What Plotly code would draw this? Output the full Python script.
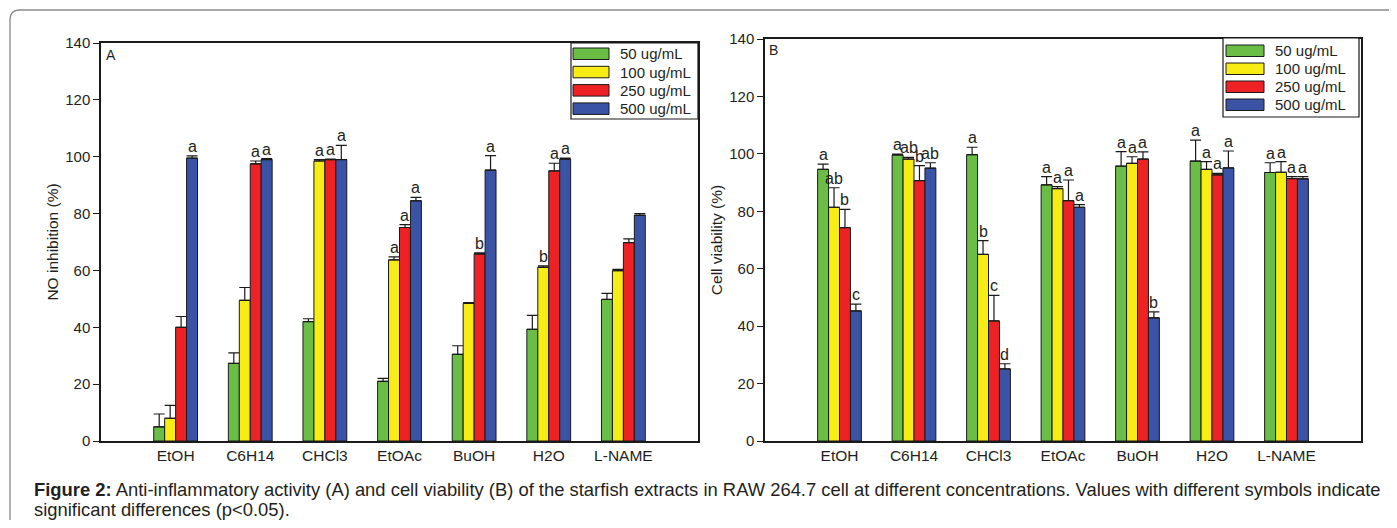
import plotly.graph_objects as go

# ---------------- data ----------------
categories = ["EtOH", "C6H14", "CHCl3", "EtOAc", "BuOH", "H2O", "L-NAME"]
series_names = ["50 ug/mL", "100 ug/mL", "250 ug/mL", "500 ug/mL"]
colors = ["#6BBE45", "#F7EC13", "#EE2224", "#3A53A4"]

# Panel A: NO inhibition (%)
no_50 = [5.0, 27.3, 42.0, 21.0, 30.5, 39.3, 49.8]
no_100 = [8.0, 49.5, 98.5, 63.7, 48.4, 61.1, 59.9]
no_250 = [40.0, 97.5, 99.0, 75.1, 65.8, 95.0, 69.8]
no_500 = [99.5, 99.0, 99.0, 84.5, 95.3, 99.1, 79.4]
no_50_err = [4.5, 3.7, 1.0, 1.0, 3.0, 4.9, 2.1]
no_100_err = [4.5, 4.5, 0.5, 1.1, 0.3, 0.5, 0.5]
no_250_err = [3.8, 1.0, 0.2, 1.0, 0.4, 2.7, 1.3]
no_500_err = [0.8, 0.3, 5.0, 1.2, 5.1, 0.4, 0.6]
no_50_lbl = ["", "", "", "", "", "", ""]
no_100_lbl = ["", "", "a", "a", "", "b", ""]
no_250_lbl = ["", "a", "a", "a", "b", "a", ""]
no_500_lbl = ["a", "a", "a", "a", "a", "a", ""]

# Panel B: Cell viability (%)
cv_50 = [94.6, 99.6, 99.7, 89.2, 95.7, 97.5, 93.5]
cv_100 = [81.4, 98.2, 65.0, 87.9, 96.7, 94.6, 93.6]
cv_250 = [74.3, 90.7, 41.8, 83.7, 98.2, 92.7, 91.4]
cv_500 = [45.3, 95.0, 25.1, 81.4, 42.9, 95.1, 91.3]
cv_50_err = [1.8, 0.3, 2.6, 2.9, 5.1, 7.3, 3.4]
cv_100_err = [6.8, 0.6, 4.8, 0.7, 2.3, 2.7, 3.7]
cv_250_err = [6.4, 5.2, 8.9, 7.2, 2.5, 0.5, 0.7]
cv_500_err = [2.4, 1.9, 1.8, 0.9, 2.1, 5.9, 0.8]
cv_50_lbl = ["a", "a", "a", "a", "a", "a", "a"]
cv_100_lbl = ["ab", "ab", "b", "a", "a", "a", "a"]
cv_250_lbl = ["b", "b", "c", "a", "a", "a", "a"]
cv_500_lbl = ["c", "ab", "d", "a", "b", "a", "a"]

panelA = dict(vals=[no_50, no_100, no_250, no_500],
              errs=[no_50_err, no_100_err, no_250_err, no_500_err],
              lbls=[no_50_lbl, no_100_lbl, no_250_lbl, no_500_lbl])
panelB = dict(vals=[cv_50, cv_100, cv_250, cv_500],
              errs=[cv_50_err, cv_100_err, cv_250_err, cv_500_err],
              lbls=[cv_50_lbl, cv_100_lbl, cv_250_lbl, cv_500_lbl])

# ---------------- layout helpers ----------------
OFF = 8                       # page body margin
W, H = 1397 - 2 * OFF, 528 - 2 * OFF
FONT = "Liberation Sans, Arial, sans-serif"
TXT = "#231F20"


def px(x):
    return (x - OFF) / W


def py(y):
    return 1 - (y - OFF) / H


BARGAP = 0.413
bar_w = (1 - BARGAP) / 4

fig = go.Figure()

annotations = []
shapes = []

for pi, (panel, xa, ya) in enumerate([(panelA, "x", "y"), (panelB, "x2", "y2")]):
    for si in range(4):
        fig.add_trace(go.Bar(
            x=categories, y=panel["vals"][si], name=series_names[si],
            marker=dict(color=colors[si], line=dict(color="#1a1a1a", width=1)),
            error_y=dict(type="data", symmetric=False, array=panel["errs"][si],
                         arrayminus=[0] * len(categories), color="#1a1a1a",
                         thickness=1.2, width=5.5),
            xaxis=xa, yaxis=ya, showlegend=False, offsetgroup=str(si),
        ))
        # significance letters
        for ci, lbl in enumerate(panel["lbls"][si]):
            if not lbl:
                continue
            xpos = ci + (si - 1.5) * bar_w
            annotations.append(dict(
                x=xpos, y=panel["vals"][si][ci] + panel["errs"][si][ci],
                xref=xa, yref=ya, text=lbl, showarrow=False,
                yanchor="bottom", xanchor="center", yshift=-1,
                font=dict(family=FONT, size=16, color=TXT)))

axis_common = dict(showline=True, linecolor="#1a1a1a", linewidth=1.5, mirror=True,
                   showgrid=False, zeroline=False, automargin=False)

fig.update_layout(
    template="none",
    width=W, height=H, margin=dict(l=0, r=0, t=0, b=0, autoexpand=False),
    paper_bgcolor="white", plot_bgcolor="white",
    barmode="group", bargap=BARGAP, bargroupgap=0,
    font=dict(family=FONT, size=15, color=TXT),
    xaxis=dict(domain=[px(101), px(698)], anchor="y", range=[-1, 7],
               ticks="", tickfont=dict(size=15.5), ticklabelstandoff=0, **axis_common),
    yaxis=dict(domain=[py(441), py(43)], anchor="x", range=[0, 140], dtick=20,
               ticks="outside", ticklen=6, tickcolor="#1a1a1a", tickfont=dict(size=15),
               title=dict(text="NO inhibition (%)", font=dict(size=15.5), standoff=3),
               **axis_common),
    xaxis2=dict(domain=[px(765), px(1361)], anchor="y2", range=[-1, 7],
                ticks="", tickfont=dict(size=15.5), ticklabelstandoff=0, **axis_common),
    yaxis2=dict(domain=[py(441), py(39)], anchor="x2", range=[0, 140], dtick=20,
                ticks="outside", ticklen=6, tickcolor="#1a1a1a", tickfont=dict(size=15),
                title=dict(text="Cell viability (%)", font=dict(size=15.5), standoff=3),
                **axis_common),
)

# panel letters
annotations.append(dict(x=px(104), y=py(45), xref="paper", yref="paper", text="A",
                        showarrow=False, xanchor="left", yanchor="top",
                        font=dict(family=FONT, size=14, color=TXT)))
annotations.append(dict(x=px(767), y=py(40), xref="paper", yref="paper", text="B",
                        showarrow=False, xanchor="left", yanchor="top",
                        font=dict(family=FONT, size=14, color=TXT)))

# custom legends (box + swatches + labels)
for (bx0, by0, bx1, by1, sx0, sx1, sy0, pitch, tx) in [
        (571, 43, 698, 119, 573, 609, 48, 18.3, 618),
        (1223, 38, 1359, 117, 1226, 1264, 45, 18.0, 1273)]:
    shapes.append(dict(type="rect", xref="paper", yref="paper",
                       x0=px(bx0), x1=px(bx1), y0=py(by1), y1=py(by0),
                       line=dict(color="#1a1a1a", width=1.2), fillcolor="white", layer="above"))
    for si in range(4):
        y0 = sy0 + si * pitch
        shapes.append(dict(type="rect", xref="paper", yref="paper",
                           x0=px(sx0), x1=px(sx1), y0=py(y0 + 11.5), y1=py(y0),
                           line=dict(color="#1a1a1a", width=1), fillcolor=colors[si],
                           layer="above"))
        annotations.append(dict(x=px(tx), y=py(y0 + 5.75), xref="paper", yref="paper",
                                text=series_names[si], showarrow=False,
                                xanchor="left", yanchor="middle",
                                font=dict(family=FONT, size=15, color=TXT)))

# outer frame with rounded top-left corner
r = 10
path = (f"M {px(10)},{py(560)} L {px(10)},{py(10 + r)} "
        f"Q {px(10)},{py(10)} {px(10 + r)},{py(10)} L {px(1420)},{py(10)}")
shapes.append(dict(type="path", xref="paper", yref="paper", path=path,
                   line=dict(color="#8a8a8a", width=1.3)))

# caption
annotations.append(dict(
    x=px(32), y=py(489), xref="paper", yref="paper", xanchor="left", yanchor="middle",
    showarrow=False, align="left",
    text="<b>Figure 2:</b> Anti-inflammatory activity (A) and cell viability (B) of the starfish "
         "extracts in RAW 264.7 cell at different concentrations. Values with different symbols indicate",
    font=dict(family=FONT, size=18.4, color=TXT)))
annotations.append(dict(
    x=px(32), y=py(509), xref="paper", yref="paper", xanchor="left", yanchor="middle",
    showarrow=False, align="left", text="significant differences (p<0.05).",
    font=dict(family=FONT, size=18.4, color=TXT)))

fig.update_layout(annotations=annotations, shapes=shapes)

fig.write_html("out.html")
